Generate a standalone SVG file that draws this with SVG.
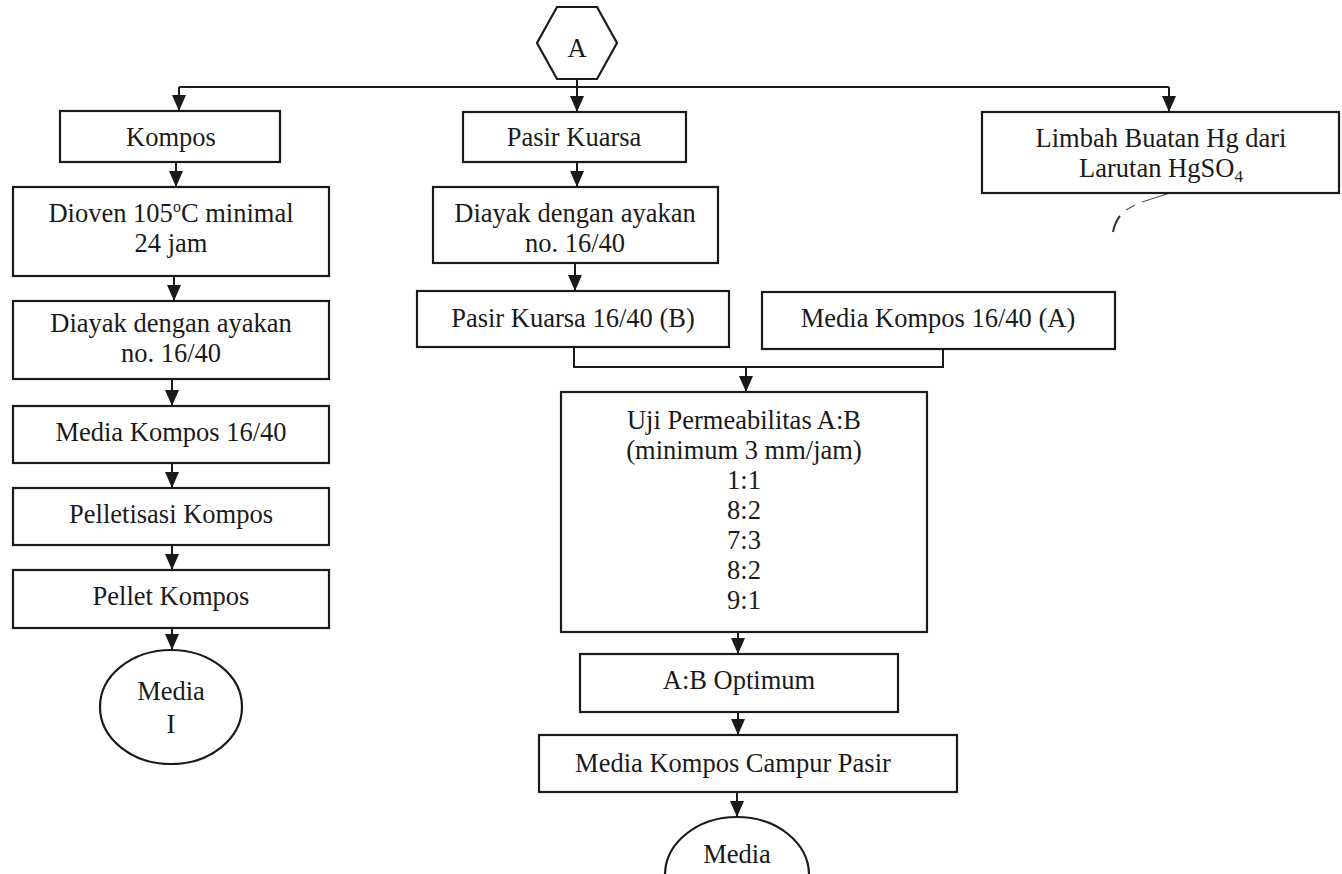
<svg xmlns="http://www.w3.org/2000/svg" width="1342" height="874" viewBox="0 0 1342 874">
<defs>
<marker id="ah" viewBox="0 0 16 14" refX="16" refY="7" markerWidth="16" markerHeight="14" markerUnits="userSpaceOnUse" orient="auto">
<path d="M0,0 L16,7 L0,14 z" fill="#1a1a1a"/>
</marker>
</defs>
<style>
.box{fill:#fff;stroke:#1a1a1a;stroke-width:2.2}
.ln{fill:none;stroke:#1a1a1a;stroke-width:2}
.ar{fill:none;stroke:#1a1a1a;stroke-width:2;marker-end:url(#ah)}
text{font-family:"Liberation Serif","Times New Roman",serif;font-size:26.5px;fill:#1a1a1a;text-anchor:middle}
</style>
<rect width="1342" height="874" fill="#fff"/>
<g id="connectors">
<line class="ln" x1="179" y1="87" x2="1169" y2="87"/>
<line class="ar" x1="577" y1="79" x2="577" y2="112"/>
<line class="ar" x1="179" y1="87" x2="179" y2="111"/>
<line class="ar" x1="1169" y1="87" x2="1169" y2="112"/>
<line class="ar" x1="176" y1="162" x2="176" y2="187"/>
<line class="ar" x1="174" y1="276" x2="174" y2="301"/>
<line class="ar" x1="172" y1="379" x2="172" y2="406"/>
<line class="ar" x1="172" y1="463" x2="172" y2="488"/>
<line class="ar" x1="172" y1="545" x2="172" y2="570"/>
<line class="ar" x1="172" y1="628" x2="172" y2="650"/>
<line class="ar" x1="577" y1="162" x2="577" y2="187"/>
<line class="ar" x1="575" y1="263" x2="575" y2="291"/>
<polyline class="ln" points="574,347 574,367 943,367 943,349"/>
<line class="ar" x1="746" y1="367" x2="746" y2="392"/>
<line class="ar" x1="738" y1="632" x2="738" y2="654"/>
<line class="ar" x1="738" y1="712" x2="738" y2="735"/>
<line class="ar" x1="737" y1="792" x2="737" y2="817"/>
<path d="M1170,193 L1142,202" fill="none" stroke="#555" stroke-width="1.2"/>
<path d="M1135,205 L1126,210" fill="none" stroke="#555" stroke-width="1.2"/>
<path d="M1120,216 Q1115,222 1113,232" fill="none" stroke="#333" stroke-width="2"/>
</g>
<g id="hexA">
<polygon class="box" points="537,43 557,7 597,7 617,43 597,79 557,79"/>
<text x="577" y="57">A</text>
</g>
<g id="kompos">
<rect class="box" x="60" y="111" width="220" height="51"/>
<text x="171" y="146">Kompos</text>
</g>
<g id="dioven">
<rect class="box" x="13" y="187" width="316" height="89"/>
<text x="171" y="222">Dioven 105<tspan dy="-10" font-size="16">o</tspan><tspan dy="10">C minimal</tspan></text>
<text x="171" y="252">24 jam</text>
</g>
<g id="diayak1">
<rect class="box" x="13" y="301" width="316" height="78"/>
<text x="171" y="332">Diayak dengan ayakan</text>
<text x="171" y="362">no. 16/40</text>
</g>
<g id="mediakompos1">
<rect class="box" x="13" y="406" width="316" height="57"/>
<text x="171" y="441">Media Kompos 16/40</text>
</g>
<g id="pelletisasi">
<rect class="box" x="13" y="488" width="316" height="57"/>
<text x="171" y="523">Pelletisasi Kompos</text>
</g>
<g id="pellet">
<rect class="box" x="13" y="570" width="316" height="58"/>
<text x="171" y="605">Pellet Kompos</text>
</g>
<g id="media1">
<ellipse class="box" cx="171" cy="707" rx="71" ry="57"/>
<text x="171" y="700">Media</text>
<text x="171" y="733">I</text>
</g>
<g id="pasir">
<rect class="box" x="463" y="112" width="223" height="50"/>
<text x="574" y="146">Pasir Kuarsa</text>
</g>
<g id="diayak2">
<rect class="box" x="433" y="187" width="285" height="76"/>
<text x="575" y="222">Diayak dengan ayakan</text>
<text x="575" y="252">no. 16/40</text>
</g>
<g id="pasirB">
<rect class="box" x="417" y="291" width="312" height="56"/>
<text x="573" y="327">Pasir Kuarsa 16/40 (B)</text>
</g>
<g id="komposA">
<rect class="box" x="762" y="292" width="353" height="57"/>
<text x="938" y="327">Media Kompos 16/40 (A)</text>
</g>
<g id="limbah">
<rect class="box" x="982" y="112" width="357" height="81"/>
<text x="1161" y="147">Limbah Buatan Hg dari</text>
<text x="1161" y="177">Larutan HgSO<tspan dy="5" font-size="17">4</tspan></text>
</g>
<g id="uji">
<rect class="box" x="561" y="392" width="366" height="240"/>
<text x="744" y="429">Uji Permeabilitas A:B</text>
<text x="744" y="459">(minimum 3 mm/jam)</text>
<text x="744" y="489">1:1</text>
<text x="744" y="519">8:2</text>
<text x="744" y="549">7:3</text>
<text x="744" y="579">8:2</text>
<text x="744" y="609">9:1</text>
</g>
<g id="optimum">
<rect class="box" x="580" y="654" width="318" height="58"/>
<text x="739" y="689">A:B Optimum</text>
</g>
<g id="campur">
<rect class="box" x="539" y="735" width="418" height="57"/>
<text x="733" y="772">Media Kompos Campur Pasir</text>
</g>
<g id="media2">
<ellipse class="box" cx="737" cy="875" rx="72" ry="58"/>
<text x="737" y="863">Media</text>
</g>
</svg>
